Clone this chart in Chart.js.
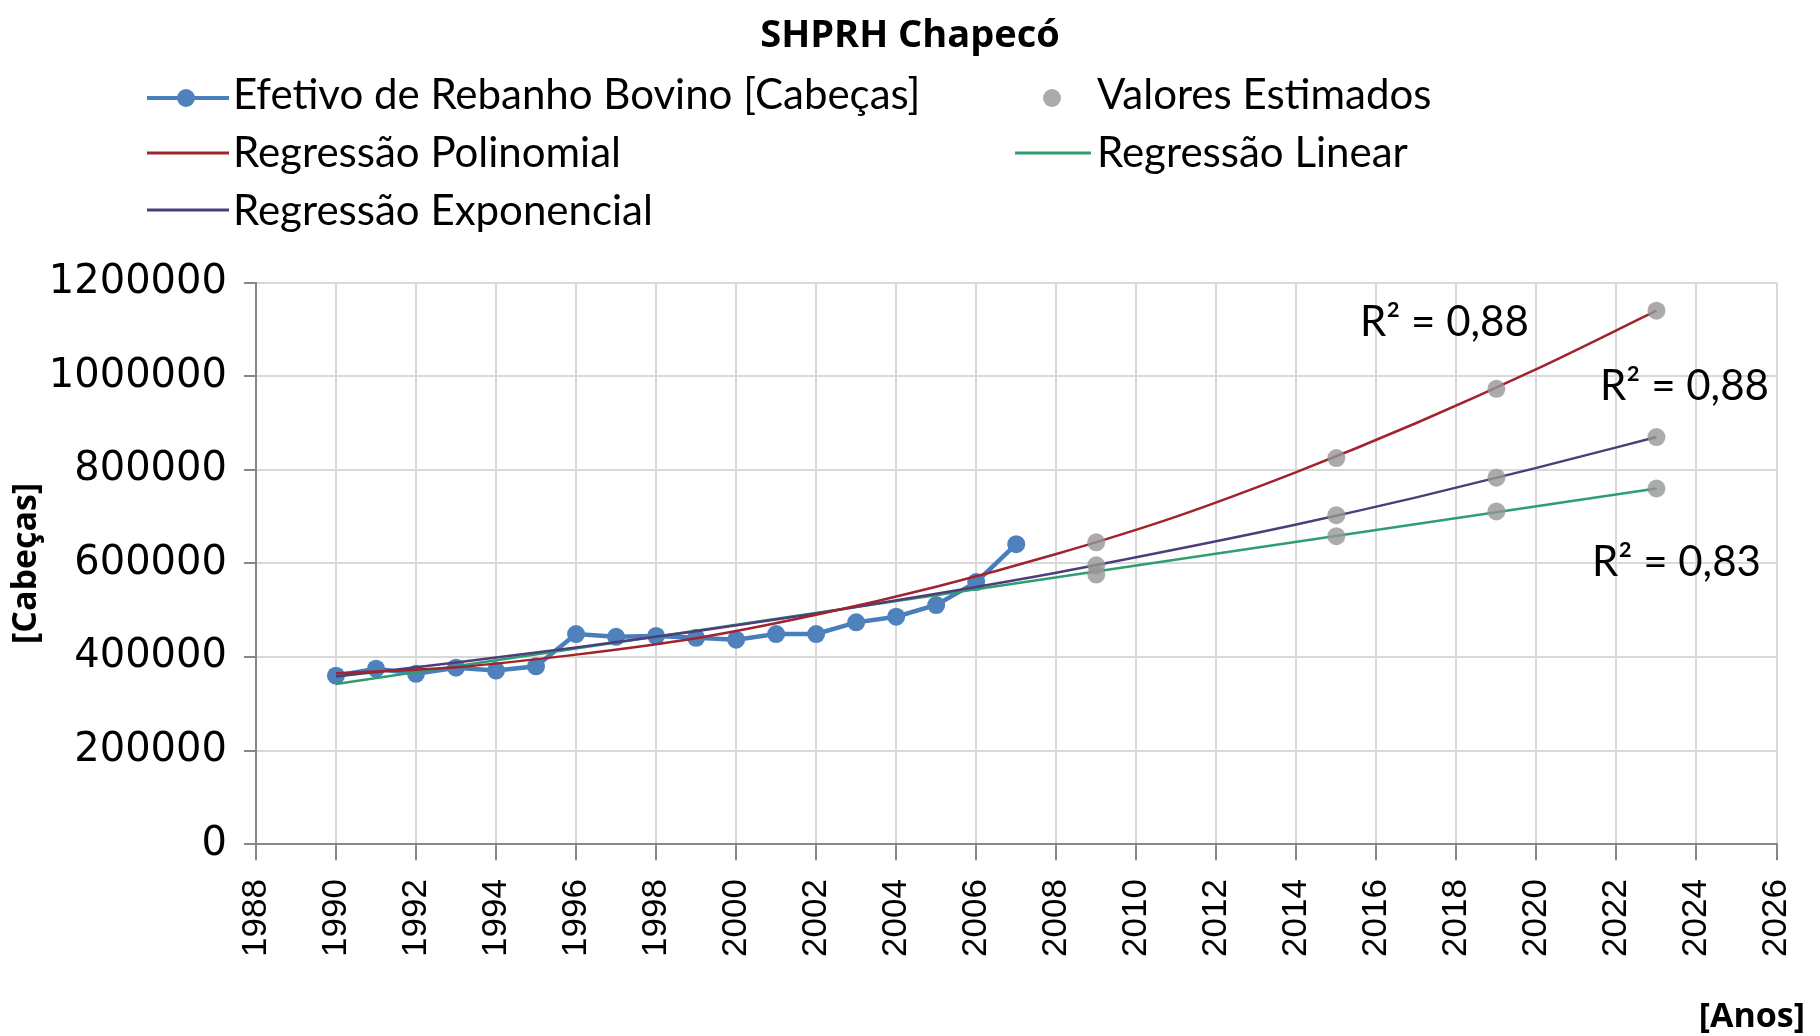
<!DOCTYPE html>
<html>
<head>
<meta charset="utf-8">
<script src="https://cdn.jsdelivr.net/npm/chart.js@4.4.1/dist/chart.umd.min.js"></script>
<style>
  html, body { margin: 0; padding: 0; background: #fff; }
  canvas { display: block; }
</style>
</head>
<body>
<canvas id="grafico" width="1820" height="1036"></canvas>
<script>
// Efetivo de rebanho bovino observado
const anos = [1990, 1991, 1992, 1993, 1994, 1995, 1996, 1997, 1998, 1999,
              2000, 2001, 2002, 2003, 2004, 2005, 2006, 2007];
const rebanho = [360000, 375000, 364000, 377000, 371000, 380000, 449000, 443000, 445000, 441000,
                 437000, 449000, 449000, 474000, 486000, 511000, 560000, 641000];

// Valores estimados pelas regressões
const anosEstimados = [2009, 2015, 2019, 2023];
const estPolinomial = [645000, 825000, 973000, 1140000];
const estExponencial = [596000, 703000, 783000, 870000];
const estLinear = [576000, 658000, 711000, 760000];

// Curvas de regressão
const anosCurva = [1990, 1993, 1996, 1999, 2002, 2005, 2008, 2011, 2014, 2017, 2020, 2023];
const curvaPolinomial = [365000, 378000, 405000, 440000, 490000, 550000, 620000, 700000, 795000, 900000, 1015000, 1140000];
const curvaExponencial = [358000, 388000, 420000, 455000, 493000, 535000, 580000, 630000, 683000, 741000, 804000, 870000];
const anosReta = [1990, 2023];
const retaLinear = [342000, 760000];

const rotulosR2 = ['R² = 0,88', 'R² = 0,88', 'R² = 0,83'];

const pares = (xs, ys) => xs.map((x, i) => ({ x: x, y: ys[i] }));

const corAzul = '#4A7EBB';
const corVermelho = '#A0232D';
const corRoxo = '#4E3D7A';
const corVerde = '#2E9E6E';
const corCinza = 'rgba(150, 150, 150, 0.8)';

// Legenda em duas colunas, rótulos de R² e título do eixo x, desenhados sobre o canvas
const legendaPlugin = {
    id: 'legenda',
    afterDraw(chart) {
        const ctx = chart.ctx;
        const { x, y } = chart.scales;
        ctx.save();
        ctx.font = '42px Lato';
        ctx.fillStyle = '#000';
        ctx.textBaseline = 'alphabetic';

        const linha = (x1, x2, yy, cor, larg) => {
            ctx.beginPath();
            ctx.strokeStyle = cor;
            ctx.lineWidth = larg;
            ctx.moveTo(x1, yy);
            ctx.lineTo(x2, yy);
            ctx.stroke();
        };
        const ponto = (cx, cy, cor) => {
            ctx.beginPath();
            ctx.fillStyle = cor;
            ctx.arc(cx, cy, 9, 0, Math.PI * 2);
            ctx.fill();
        };

        linha(147, 229, 98, corAzul, 4);
        ponto(186, 98, '#4F81BD');
        linha(147, 229, 153, corVermelho, 3);
        linha(147, 229, 210, corRoxo, 3);
        linha(1015, 1091, 153, corVerde, 3);
        ponto(1052, 98, corCinza);

        ctx.fillStyle = '#000';
        ctx.fillText('Efetivo de Rebanho Bovino [Cabeças]', 233, 109);
        ctx.fillText('Regressão Polinomial', 233, 167);
        ctx.fillText('Regressão Exponencial', 233, 225);
        ctx.fillText('Valores Estimados', 1097, 109);
        ctx.fillText('Regressão Linear', 1097, 167);

        // rótulos R²
        ctx.textAlign = 'center';
        ctx.textBaseline = 'middle';
        ctx.fillText(rotulosR2[0], x.getPixelForValue(2017.7), y.getPixelForValue(1115000));
        ctx.fillText(rotulosR2[1], x.getPixelForValue(2023.7), y.getPixelForValue(979000));
        ctx.fillText(rotulosR2[2], x.getPixelForValue(2023.5), y.getPixelForValue(601000));

        // título do eixo x, passando um pouco da borda do gráfico
        ctx.font = 'bold 34px "Open Sans"';
        ctx.textAlign = 'right';
        ctx.fillText('[Anos]', 1805, 1017);
        ctx.restore();
    }
};

const ctx = document.getElementById('grafico').getContext('2d');

const grafico = new Chart(ctx, {
    type: 'scatter',
    data: {
        datasets: [
            {
                label: 'Valores Estimados',
                data: [].concat(pares(anosEstimados, estPolinomial), pares(anosEstimados, estExponencial), pares(anosEstimados, estLinear)),
                backgroundColor: corCinza,
                borderWidth: 0,
                pointRadius: 9,
                order: 0
            },
            {
                label: 'Regressão Polinomial',
                data: pares(anosCurva, curvaPolinomial),
                showLine: true,
                borderColor: corVermelho,
                borderWidth: 2.5,
                pointRadius: 0,
                cubicInterpolationMode: 'monotone',
                order: 1
            },
            {
                label: 'Regressão Exponencial',
                data: pares(anosCurva, curvaExponencial),
                showLine: true,
                borderColor: corRoxo,
                borderWidth: 2.5,
                pointRadius: 0,
                cubicInterpolationMode: 'monotone',
                order: 2
            },
            {
                label: 'Regressão Linear',
                data: pares(anosReta, retaLinear),
                showLine: true,
                borderColor: corVerde,
                borderWidth: 2.5,
                pointRadius: 0,
                order: 3
            },
            {
                label: 'Efetivo de Rebanho Bovino [Cabeças]',
                data: pares(anos, rebanho),
                showLine: true,
                borderColor: corAzul,
                backgroundColor: '#4F81BD',
                borderWidth: 4.5,
                pointRadius: 9,
                pointBorderWidth: 0,
                order: 4
            }
        ]
    },
    options: {
        responsive: false,
        animation: false,
        layout: {
            padding: { left: 0, right: 0, top: 0, bottom: 60 }
        },
        plugins: {
            legend: { display: false },
            tooltip: { enabled: false },
            title: {
                display: true,
                text: 'SHPRH Chapecó',
                color: '#000',
                font: { family: 'Open Sans', size: 38, weight: 'bold' },
                padding: { top: 13, bottom: 224 }
            }
        },
        scales: {
            x: {
                type: 'linear',
                min: 1988,
                max: 2026,
                border: { color: '#868686', width: 2 },
                grid: { color: '#D9D9D9', lineWidth: 2, tickLength: 16, tickColor: '#868686' },
                ticks: {
                    stepSize: 2,
                    autoSkip: false,
                    maxRotation: 90,
                    minRotation: 90,
                    padding: 19,
                    color: '#000',
                    font: { family: "'Liberation Sans Narrow', 'Liberation Sans'", size: 35, lineHeight: 0.7 },
                    callback: v => String(v)
                }
            },
            y: {
                min: 0,
                max: 1200000,
                border: { color: '#868686', width: 2 },
                grid: { color: '#D9D9D9', lineWidth: 2, tickLength: 12, tickColor: '#868686' },
                ticks: {
                    stepSize: 200000,
                    padding: 17,
                    color: '#000',
                    font: { family: 'DejaVu Sans', size: 40 },
                    callback: v => String(v)
                },
                title: {
                    display: true,
                    text: '[Cabeças]',
                    color: '#000',
                    font: { family: 'Open Sans', size: 34, weight: 'bold' },
                    padding: { top: 6, bottom: -15 }
                }
            }
        }
    },
    plugins: [legendaPlugin]
});
</script>
</body>
</html>
